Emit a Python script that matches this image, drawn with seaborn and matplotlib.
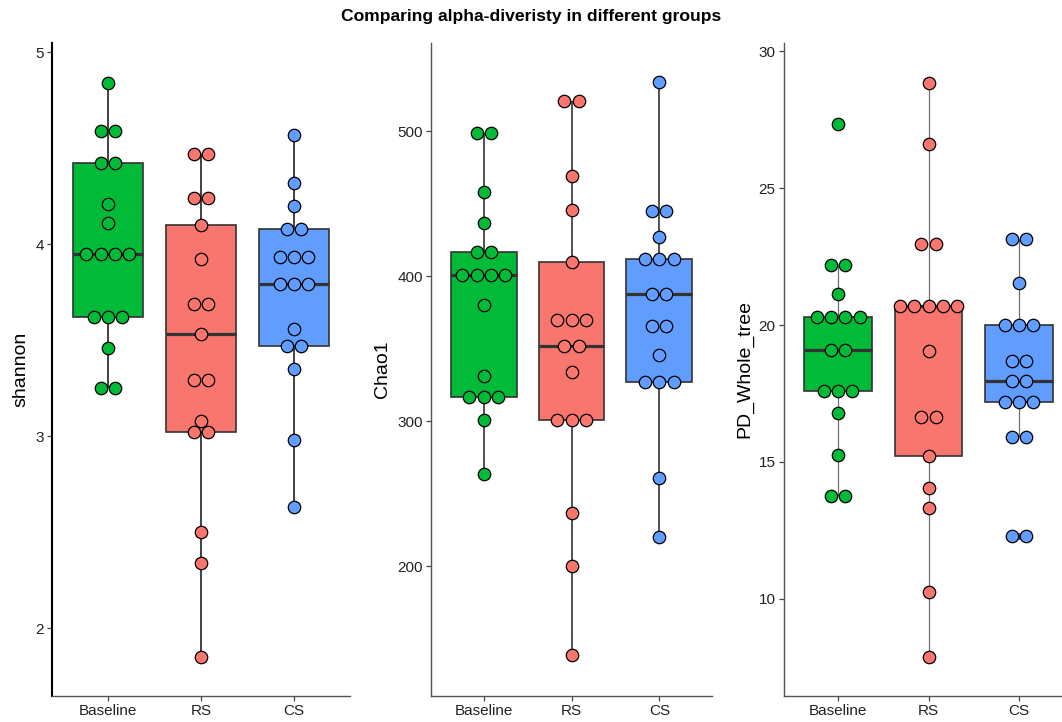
import numpy as np
import pandas as pd
import matplotlib
matplotlib.use("Agg")
import matplotlib.pyplot as plt
import seaborn as sns

# ---------------- data ----------------
groups = ["Baseline", "RS", "CS"]
group_colors = ["#00BA38", "#F8766D", "#619CFF"]

shannon_baseline = [4.84, 4.59, 4.59, 4.42, 4.42, 4.21, 4.11, 3.95, 3.95, 3.95, 3.95,
                    3.62, 3.62, 3.62, 3.46, 3.25, 3.25]
shannon_rs = [4.47, 4.47, 4.24, 4.24, 4.10, 3.92, 3.69, 3.69, 3.53, 3.29, 3.29,
              3.08, 3.02, 3.02, 2.50, 2.34, 1.85]
shannon_cs = [4.57, 4.32, 4.20, 4.08, 4.08, 3.93, 3.93, 3.93, 3.79, 3.79, 3.79,
              3.56, 3.47, 3.47, 3.35, 2.98, 2.63]

chao1_baseline = [499, 499, 458, 437, 417, 417, 401, 401, 401, 401, 380, 331,
                  317, 317, 317, 301, 264]
chao1_rs = [521, 521, 469, 446, 410, 370, 370, 370, 352, 352, 334, 301, 301, 301,
            237, 200, 139]
chao1_cs = [534, 445, 445, 427, 412, 412, 412, 388, 388, 366, 366, 346, 327, 327,
            327, 261, 220]

pd_baseline = [27.35, 22.2, 22.2, 21.15, 20.3, 20.3, 20.3, 20.3, 19.1, 19.1,
               17.6, 17.6, 17.6, 16.8, 15.25, 13.75, 13.75]
pd_rs = [28.85, 26.6, 22.95, 22.95, 20.7, 20.7, 20.7, 20.7, 20.7, 19.05, 16.65,
         16.65, 15.2, 14.05, 13.3, 10.25, 7.85]
pd_cs = [23.15, 23.15, 21.55, 20.0, 20.0, 20.0, 18.7, 18.7, 17.95, 17.95, 17.2,
         17.2, 17.2, 15.9, 15.9, 12.3, 12.3]

shannon_ticks = [2, 3, 4, 5]
chao1_ticks = [200, 300, 400, 500]
pd_ticks = [10, 15, 20, 25, 30]

title_text = "Comparing alpha-diveristy in different groups"

# ---------------- style ----------------
sns.set_theme(style="white")
plt.rcParams["font.family"] = ["Liberation Sans", "DejaVu Sans"]

W, H = 1062, 722
fig = plt.figure(figsize=(W / 100, H / 100), dpi=100)
fig.patch.set_facecolor("white")

panels = [
    dict(name="shannon", data=[shannon_baseline, shannon_rs, shannon_cs],
         ticks=shannon_ticks, ylim=(1.646, 5.047), left=52, right=350,
         labx=29, spine_left=("black", 1.5), whisk=("#333333", 1.3)),
    dict(name="Chao1", data=[chao1_baseline, chao1_rs, chao1_cs],
         ticks=chao1_ticks, ylim=(110.6, 560.9), left=431, right=712,
         labx=391, spine_left=("#555555", 1.0), whisk=("#333333", 1.2)),
    dict(name="PD_Whole_tree", data=[pd_baseline, pd_rs, pd_cs],
         ticks=pd_ticks, ylim=(6.44, 30.31), left=784, right=1073,
         labx=753, spine_left=("#555555", 1.0), whisk=("#707070", 0.9)),
]

top_px, bot_px = 43, 696
dot_spacing_px = 14.3

for p in panels:
    ax = fig.add_axes([p["left"] / W, 1 - bot_px / H,
                       (p["right"] - p["left"]) / W, (bot_px - top_px) / H])
    ax.set_facecolor("white")
    vals = p["data"]
    df = pd.DataFrame({
        "group": np.repeat(groups, [len(v) for v in vals]),
        "value": np.concatenate([np.asarray(v, float) for v in vals]),
    })
    sns.boxplot(data=df, x="group", y="value", hue="group", order=groups,
                hue_order=groups, palette=dict(zip(groups, group_colors)),
                saturation=1, width=0.75, linewidth=1.2, linecolor="#333333",
                showcaps=False, whis=1.5, legend=False, ax=ax,
                whiskerprops=dict(color=p["whisk"][0], linewidth=p["whisk"][1]),
                medianprops=dict(color="#333333", linewidth=2.3),
                flierprops=dict(marker="o", markersize=3.5,
                                markerfacecolor="#333333",
                                markeredgecolor="#333333"))

    # dotplot-style stacking of tied values, centred on each category
    ax_w_px = p["right"] - p["left"]
    unit = dot_spacing_px / (ax_w_px / 3.2)
    for i, (v, col) in enumerate(zip(vals, group_colors)):
        v = np.asarray(v, float)
        uniq, counts = np.unique(v, return_counts=True)
        xs, ys = [], []
        for u, k in zip(uniq, counts):
            for j in range(k):
                xs.append(i + (j - (k - 1) / 2) * unit)
                ys.append(u)
        ax.scatter(xs, ys, s=80, facecolor=col, edgecolor="black",
                   linewidths=0.9, zorder=4)

    ax.set_xlim(-0.6, 2.6)
    ax.set_ylim(*p["ylim"])
    ax.set_yticks(p["ticks"])
    ax.set_yticklabels([str(t) for t in p["ticks"]])
    ax.set_xlabel("")
    ax.set_ylabel(p["name"], fontsize=14, color="black")
    ax.yaxis.set_label_coords((p["labx"] - p["left"]) / ax_w_px, 0.5)
    for s in ["top", "right"]:
        ax.spines[s].set_visible(False)
    ax.spines["left"].set_color(p["spine_left"][0])
    ax.spines["left"].set_linewidth(p["spine_left"][1])
    ax.spines["bottom"].set_color("#555555")
    ax.spines["bottom"].set_linewidth(1.0)
    ax.tick_params(axis="both", which="both", length=3.5, width=0.9,
                   color="#444444", labelsize=11, labelcolor="#222222",
                   pad=2.5, left=True, bottom=True)
    ax.grid(False)

fig.text(0.5, 1 - 17 / H, title_text, ha="center", va="center",
         fontsize=12.6, fontweight="bold", color="black")

fig.savefig("out.png", dpi=100, facecolor="white")
